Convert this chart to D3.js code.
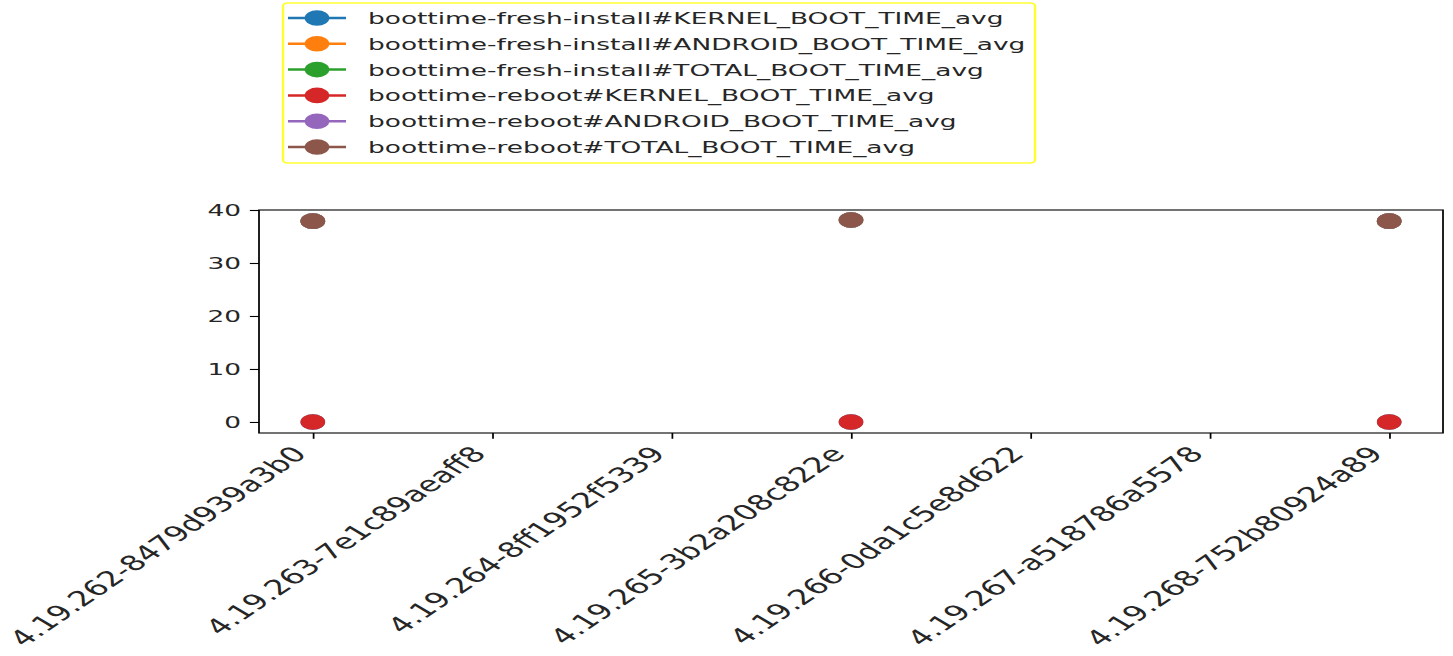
<!DOCTYPE html>
<html>
<head>
<meta charset="utf-8">
<script src="https://cdn.jsdelivr.net/npm/d3@7"></script>
<style>
html,body{margin:0;padding:0;background:#fff;overflow:hidden;}
svg{display:block;}
text{font-family:"DejaVu Sans",sans-serif;fill:#262626;}
</style>
</head>
<body>
<svg id="chart"></svg>
<script>
// ---- data ----
const categories = [
  "4.19.262-8479d939a3b0",
  "4.19.263-7e1c89aeaff8",
  "4.19.264-8ff1952f5339",
  "4.19.265-3b2a208c822e",
  "4.19.266-0da1c5e8d622",
  "4.19.267-a518786a5578",
  "4.19.268-752b80924a89"
];
const seriesNames = [
  "boottime-fresh-install#KERNEL_BOOT_TIME_avg",
  "boottime-fresh-install#ANDROID_BOOT_TIME_avg",
  "boottime-fresh-install#TOTAL_BOOT_TIME_avg",
  "boottime-reboot#KERNEL_BOOT_TIME_avg",
  "boottime-reboot#ANDROID_BOOT_TIME_avg",
  "boottime-reboot#TOTAL_BOOT_TIME_avg"
];
const seriesColors = ["#1f77b4","#ff7f0e","#2ca02c","#d62728","#9467bd","#8c564b"];
const freshKernel  = [0,    null, null, 0,    null, null, 0];
const freshAndroid = [37.9, null, null, 38.1, null, null, 37.9];
const freshTotal   = [37.9, null, null, 38.1, null, null, 37.9];
const rebootKernel  = [0,    null, null, 0,    null, null, 0];
const rebootAndroid = [37.9, null, null, 38.1, null, null, 37.9];
const rebootTotal   = [37.9, null, null, 38.1, null, null, 37.9];
const yTicks = [0, 10, 20, 30, 40];
const yDomain = [-2.08, 40];

const seriesValues = [freshKernel, freshAndroid, freshTotal, rebootKernel, rebootAndroid, rebootTotal];

// ---- layout (drawn in unstretched units, then stretched horizontally like the reference) ----
const W = 1453, H = 656, SX = 1.58;
const VW = W / SX;
const fs = 16.7;
const xfs = 21.2;
const plot = {left: 259 / SX, right: 1443 / SX, top: 210, bottom: 433};

const svg = d3.select("#chart")
  .attr("width", W).attr("height", H)
  .attr("viewBox", `0 0 ${VW} ${H}`)
  .attr("preserveAspectRatio", "none");

const x = d3.scalePoint().domain(categories).range([plot.left, plot.right]).padding(0.3);
const y = d3.scaleLinear().domain(yDomain).range([plot.bottom, plot.top]);

// series lines + markers
const line = d3.line()
  .defined(d => d.v !== null)
  .x(d => x(d.c)).y(d => y(d.v));

seriesValues.forEach((vals, i) => {
  const pts = vals.map((v, j) => ({c: categories[j], v}));
  svg.append("path").datum(pts)
    .attr("d", line).attr("fill", "none")
    .attr("stroke", seriesColors[i]).attr("stroke-width", 2.5);
  svg.append("g").selectAll("circle").data(pts.filter(d => d.v !== null)).join("circle")
    .attr("cx", d => x(d.c)).attr("cy", d => y(d.v)).attr("r", 7.8)
    .attr("fill", seriesColors[i]);
});

// axes frame
svg.append("rect")
  .attr("x", plot.left).attr("y", plot.top)
  .attr("width", plot.right - plot.left).attr("height", plot.bottom - plot.top)
  .attr("fill", "none").attr("stroke", "#000").attr("stroke-width", 1.1);

// y axis
const yAxis = d3.axisLeft(y).tickValues(yTicks).tickSize(5.8).tickPadding(5.5);
const gy = svg.append("g").attr("transform", `translate(${plot.left},0)`).call(yAxis);
gy.select(".domain").remove();
gy.selectAll("line").attr("stroke", "#000").attr("stroke-width", 1.1);
gy.selectAll("text").attr("font-size", fs).attr("font-family", "DejaVu Sans").attr("fill", "#262626");

// x axis
const xAxis = d3.axisBottom(x).tickSize(5.8).tickPadding(0);
const gx = svg.append("g").attr("transform", `translate(0,${plot.bottom})`).call(xAxis);
gx.select(".domain").remove();
gx.selectAll("line").attr("stroke", "#000").attr("stroke-width", 1.1);
gx.selectAll("text")
  .attr("font-size", xfs).attr("font-family", "DejaVu Sans").attr("fill", "#262626")
  .attr("text-anchor", "end")
  .attr("dy", null)
  .attr("y", 0)
  .attr("transform", "translate(-3.5,22) rotate(-47)");

// legend
const lg = {x: 283 / SX, y: 3, w: (1035 - 283) / SX, h: 160};
svg.append("rect")
  .attr("x", lg.x).attr("y", lg.y).attr("width", lg.w).attr("height", lg.h)
  .attr("rx", 3).attr("ry", 3)
  .attr("fill", "#fff").attr("fill-opacity", 0.8)
  .attr("stroke", "#ffff30").attr("stroke-width", 1.5);
const rowY = d3.scaleLinear().domain([0, 5]).range([18, 147]);
seriesNames.forEach((name, i) => {
  const cy = rowY(i);
  svg.append("line")
    .attr("x1", 288 / SX).attr("x2", 346 / SX).attr("y1", cy).attr("y2", cy)
    .attr("stroke", seriesColors[i]).attr("stroke-width", 2.5);
  svg.append("circle")
    .attr("cx", 317 / SX).attr("cy", cy).attr("r", 7.8).attr("fill", seriesColors[i]);
  svg.append("text")
    .attr("x", 368 / SX).attr("y", cy + fs * 0.36)
    .attr("font-size", fs)
    .text(name);
});
</script>
</body>
</html>
